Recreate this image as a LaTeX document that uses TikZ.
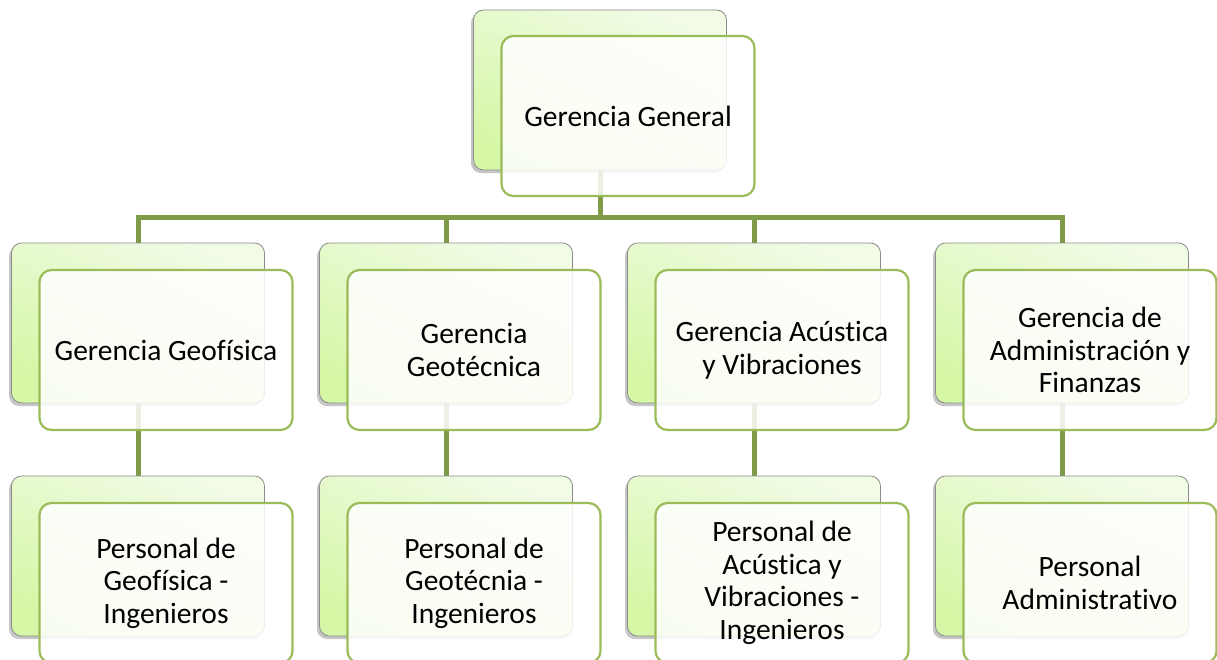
\documentclass[tikz,border=0pt]{standalone}
\usepackage{fontspec}
\setmainfont{Carlito}[Ligatures=NoCommon]
\usetikzlibrary{shadows, backgrounds}
\definecolor{linkgreen}{HTML}{7F9B48}
\definecolor{edgegreen}{HTML}{9BBB59}
\definecolor{backtop}{HTML}{F1FBE6}
\definecolor{backbot}{HTML}{D6F7A6}

\begin{document}
\begin{tikzpicture}[x=1pt, y=-1pt,
    back/.style={rounded corners=10pt, draw=gray!90, line width=0.8pt,
      top color=backtop, bottom color=backbot, shading angle=-25,
      minimum width=253pt, minimum height=160pt, inner sep=0pt,
      drop shadow={shadow xshift=-2.5pt, shadow yshift=-3pt, opacity=0.45}},
    front/.style={rounded corners=12pt, draw=edgegreen, line width=2.2pt,
      fill=white, fill opacity=0.85, text opacity=1,
      minimum width=253pt, minimum height=160pt, inner sep=0pt, align=center,
      font=\fontsize{29.5}{32.5}\selectfont},
    link/.style={draw=linkgreen, line width=5pt}]
      \useasboundingbox (0,0) rectangle (1217,659);

      \node[back] (gg-b) at (600,90) {};
      \node[front] (gg) at (628,116) {Gerencia General};

      \node[back] (geo-b) at (138,323) {};
      \node[front] (geo) at (166,350) {Gerencia Geofísica};
      \node[back] (gtc-b) at (446,323) {};
      \node[front] (gtc) at (474,350) {Gerencia\\Geotécnica};
      \node[back] (acu-b) at (754,323) {};
      \node[front] (acu) at (782,350) {Gerencia Acústica\\y Vibraciones};
      \node[back] (adm-b) at (1062,323) {};
      \node[front] (adm) at (1090,350) {Gerencia de\\Administración y\\Finanzas};

      \node[back] (geop-b) at (138,556) {};
      \node[front] (geop) at (166,583) {Personal de\\Geofísica -\\Ingenieros};
      \node[back] (gtcp-b) at (446,556) {};
      \node[front] (gtcp) at (474,583) {Personal de\\Geotécnia -\\Ingenieros};
      \node[back] (acup-b) at (754,556) {};
      \node[front] (acup) at (782,583) {Personal de\\Acústica y\\Vibraciones -\\Ingenieros};
      \node[back] (admp-b) at (1062,556) {};
      \node[front] (admp) at (1090,583) {Personal\\Administrativo};

      \begin{scope}[on background layer]
        \coordinate (bar) at (600,217);
        \draw[link] (gg-b.south) -- (bar);
        \draw[link] (bar) -| (geo-b.north);
        \draw[link] (bar) -| (gtc-b.north);
        \draw[link] (bar) -| (acu-b.north);
        \draw[link] (bar) -| (adm-b.north);

        \draw[link] (geo-b.south) -- (geop-b.north);
        \draw[link] (gtc-b.south) -- (gtcp-b.north);
        \draw[link] (acu-b.south) -- (acup-b.north);
        \draw[link] (adm-b.south) -- (admp-b.north);
      \end{scope}
    \end{tikzpicture}
\end{document}
